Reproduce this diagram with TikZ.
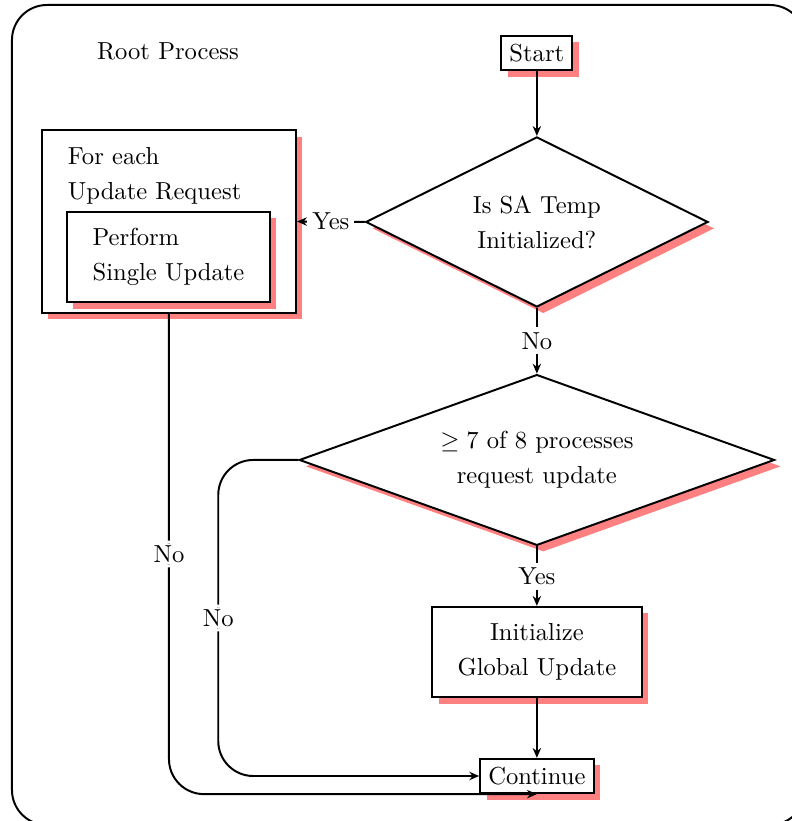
\documentclass[tikz,border=0pt]{standalone}
\usetikzlibrary{arrows.meta,shapes.geometric,shadows}

\begin{document}
\begin{tikzpicture}[>={Stealth[length=4pt,width=3.4pt]}, thick,
    box/.style={draw, fill=white, drop shadow={fill=red!50, opacity=1, shadow xshift=2.6pt, shadow yshift=-2.6pt}},
    decision/.style={box, diamond, aspect=2, inner sep=0pt, align=center},
    lbl/.style={fill=white, inner sep=2pt}]
    \useasboundingbox (0,0) rectangle (11.314,-11.729);
    \draw[rounded corners=0.5cm] (0.171,-0.071) rectangle (11.5,-11.786);
    \node (root) at (2.4,-0.74) {Root Process};
    \node[box] (start) at (7.67,-0.757) {Start};
    \node[decision, minimum width=4.89cm, minimum height=2.43cm] (init) at (7.67,-3.171) {Is SA Temp\\[2.2pt] Initialized?};
    \node[box, minimum width=3.63cm, minimum height=2.61cm] (loop) at (2.414,-3.164) {};
    \node[anchor=west, align=left, inner sep=0pt] (loophead) at (0.957,-2.507) {For each\\[2.2pt] Update Request};
    \node[box, align=left, minimum width=2.9cm, minimum height=1.29cm] (single) at (2.407,-3.671) {Perform\\[2.2pt] Single Update};
    \node[decision, minimum width=6.79cm, minimum height=2.44cm] (quorum) at (7.67,-6.571) {$\geq 7$ of 8 processes\\[2.2pt] request update};
    \node[box, align=center, minimum width=2.99cm, minimum height=1.29cm] (global) at (7.67,-9.314) {Initialize\\[2.2pt] Global Update};
    \node[box] (cont) at (7.67,-11.086) {Continue};
    \draw[->] (start) -- (init);
    \draw[->] (init.west) -- node[lbl] {Yes} (loop.east);
    \draw[->] (init.south) -- node[lbl] {No} (quorum.north);
    \draw[->] (quorum.south) -- node[lbl] {Yes} (global.north);
    \draw[->] (global) -- (cont);
    \draw[->, rounded corners=0.5cm] (quorum.west) -- ++(-1.143,0) |- node[lbl, pos=0.25] {No} (cont.west);
    \draw[->, rounded corners=0.5cm] (loop.south) |- node[lbl, pos=0.25] {No} (cont.south);
\end{tikzpicture}
\end{document}
